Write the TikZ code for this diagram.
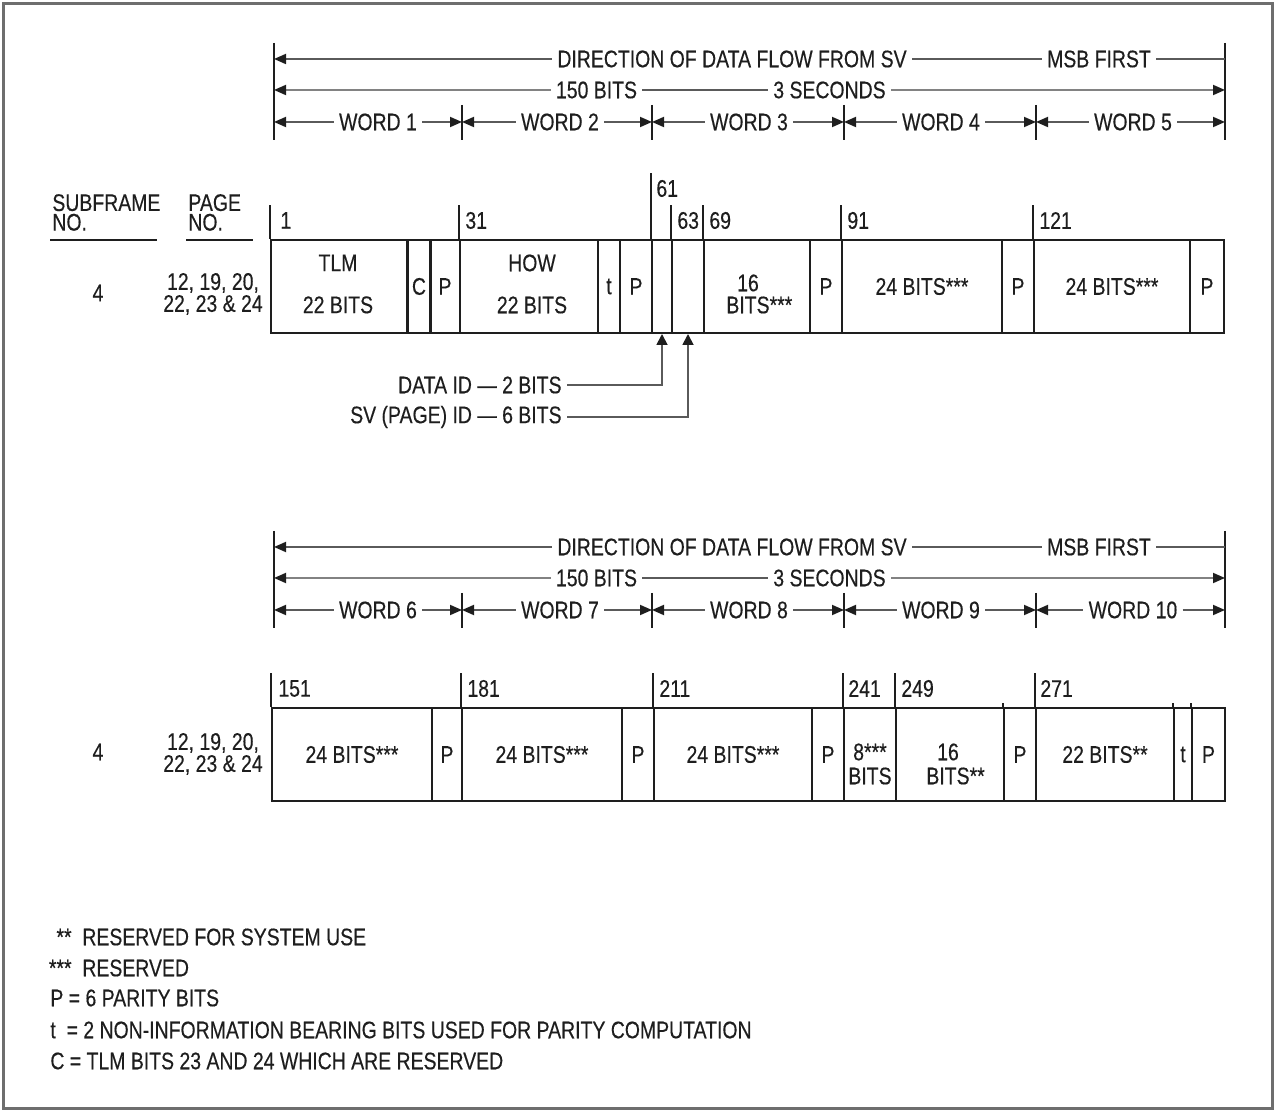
\documentclass[tikz,border=0pt]{standalone}
\usepackage{fontspec}
\setmainfont{Liberation Sans}[FakeStretch=0.81, FakeBold=0.35]
\usetikzlibrary{arrows.meta}
\definecolor{ink}{RGB}{30,30,30}
\definecolor{dimc}{RGB}{90,90,90}
\definecolor{dimlight}{RGB}{130,130,130}
\definecolor{framec}{RGB}{110,110,110}
\tikzset{
  txt/.style={font=\fontsize{12}{14}\selectfont, text=ink, inner sep=2.5pt},
  num/.style={txt, inner sep=0pt, anchor=west},
  tick/.style={draw=ink, line width=1pt},
  dim/.style={draw=dimc, line width=0.9pt, >={Triangle[length=6pt,width=5pt,color=ink]}},
  dimL/.style={dim, draw=dimlight},
  cell/.style={draw=ink, line width=1pt, inner sep=0pt, minimum height=46.5pt, txt},
  lead/.style={draw=dimc, line width=0.9pt, -{Triangle[length=5.5pt,width=5.5pt,color=ink]}},
}
\newcommand\fcell[5]{\node[cell, minimum width={(#3-#2)*0.5pt}] (#1) at ({(#2+#3)/2},#4) {#5};}
\newcommand\dimblock[7]{%
\begin{scope}[shift={(0,#2)}, name prefix=#1]
  \coordinate (L0) at (274,59); \coordinate (R0) at (1225,59);
  \coordinate (L1) at (274,90); \coordinate (R1) at (1225,90);
  \coordinate (T0) at (274,122); \coordinate (T1) at (462,122);
  \coordinate (T2) at (652,122); \coordinate (T3) at (844,122);
  \coordinate (T4) at (1036,122); \coordinate (T5) at (1225,122);
  \draw[tick] (274,43) -- (274,140);
  \draw[tick] (1225,43) -- (1225,140);
  \foreach \x in {462,652,844,1036} \draw[tick] (\x,105) -- (\x,140);
  \node[txt] (dir) at (732,59) {DIRECTION OF DATA FLOW FROM SV};
  \node[txt] (msb) at (1099,59) {MSB FIRST};
  \node[txt] (bits) at (596.5,90) {150 BITS};
  \node[txt] (secs) at (829.5,90) {3 SECONDS};
  \node[txt] (w1) at (378,122) {#3};
  \node[txt] (w2) at (560,122) {#4};
  \node[txt] (w3) at (749,122) {#5};
  \node[txt] (w4) at (941,122) {#6};
  \node[txt] (w5) at (1133,122) {#7};
  \draw[dim,<-] (L0) -- (dir.west);
  \draw[dim] (dir.east) -- (msb.west);
  \draw[dim] (msb.east) -- (R0);
  \draw[dimL,<-] (L1) -- (bits.west);
  \draw[dim] (bits.east) -- (secs.west);
  \draw[dimL,->] (secs.east) -- (R1);
  \draw[dim,<-] (T0) -- (w1.west); \draw[dim,->] (w1.east) -- (T1);
  \draw[dim,<-] (T1) -- (w2.west); \draw[dim,->] (w2.east) -- (T2);
  \draw[dim,<-] (T2) -- (w3.west); \draw[dim,->] (w3.east) -- (T3);
  \draw[dim,<-] (T3) -- (w4.west); \draw[dim,->] (w4.east) -- (T4);
  \draw[dim,<-] (T4) -- (w5.west); \draw[dim,->] (w5.east) -- (T5);
\end{scope}}
\begin{document}
\begin{tikzpicture}[x=0.5pt, y=-0.5pt]
\useasboundingbox (0,0) rectangle (1275,1111);
\draw[framec, line width=1.2pt] (3.5,3.5) rectangle (1272.5,1108.5);

% ---------- dimension blocks ----------
\dimblock{top-}{0}{WORD 1}{WORD 2}{WORD 3}{WORD 4}{WORD 5}
\dimblock{bot-}{488}{WORD 6}{WORD 7}{WORD 8}{WORD 9}{WORD 10}

% ---------- headings ----------
\node[txt, anchor=west, align=left, font=\fontsize{12}{9.8}\selectfont] (sfh) at (47,212.5) {SUBFRAME\\NO.};
\node[txt, anchor=west, align=left, font=\fontsize{12}{9.8}\selectfont] (pgh) at (183,212.5) {PAGE\\NO.};
\draw[tick] (50,240) -- (157,240);
\draw[tick] (186,240) -- (253,240);

% ---------- row 1 ----------
\node[txt] (sf1) at (98,293) {4};
\node[txt, align=center, font=\fontsize{12}{11}\selectfont] (pg1) at (213,294) {12, 19, 20,\\22, 23 \& 24};

\fcell{a1}{271}{408}{286.5}{}
\fcell{a2}{408}{430}{286.5}{C}
\fcell{a3}{430}{460}{286.5}{P}
\fcell{a4}{460}{598}{286.5}{}
\fcell{a5}{598}{620}{286.5}{t}
\fcell{a6}{620}{652}{286.5}{P}
\fcell{a7}{652}{672}{286.5}{}
\fcell{a8}{672}{704}{286.5}{}
\fcell{a9}{704}{810}{286.5}{}
\fcell{a10}{810}{842}{286.5}{P}
\fcell{a11}{842}{1002}{286.5}{24 BITS***}
\fcell{a12}{1002}{1034}{286.5}{P}
\fcell{a13}{1034}{1190}{286.5}{24 BITS***}
\fcell{a14}{1190}{1224}{286.5}{P}

\node[txt, align=center] (tlm) at (338,284) {TLM\\[7pt]22 BITS};
\node[txt, align=center] (how) at (532,284) {HOW\\[7pt]22 BITS};
\node[txt, align=center] (a9t) at (748,294) {16\\[-3pt]BITS\rlap{***}};

\foreach \c/\h in {a1/205, a4/205, a7/173, a8/205, a9/205, a11/205, a13/205}
  \draw[tick] (\c.north west) -- (\c.north west |- 0,\h);
\node[num] (n1) at (280,220.5) {1};
\node[num] (n31) at (465,220.5) {31};
\node[num] (n61) at (656,188.5) {61};
\node[num] (n63) at (677,220.5) {63};
\node[num] (n69) at (709,220.5) {69};
\node[num] (n91) at (847,220.5) {91};
\node[num] (n121) at (1039,220.5) {121};

\node[txt, anchor=east] (did) at (567,385) {DATA ID — 2 BITS};
\node[txt, anchor=east] (svid) at (567,417) {SV (PAGE) ID — 6 BITS};
\draw[lead] (did.east) -| (a7.south);
\draw[lead] (svid.east) -| (a8.south);

% ---------- row 2 ----------
\node[txt] (sf2) at (98,752) {4};
\node[txt, align=center, font=\fontsize{12}{11}\selectfont] (pg2) at (213,754) {12, 19, 20,\\22, 23 \& 24};

\fcell{b1}{272}{432}{754.5}{24 BITS***}
\fcell{b2}{432}{462}{754.5}{P}
\fcell{b3}{462}{622}{754.5}{24 BITS***}
\fcell{b4}{622}{654}{754.5}{P}
\fcell{b5}{654}{812}{754.5}{24 BITS***}
\fcell{b6}{812}{844}{754.5}{P}
\fcell{b7}{844}{896}{754.5}{}
\fcell{b8}{896}{1004}{754.5}{}
\fcell{b9}{1004}{1036}{754.5}{P}
\fcell{b10}{1036}{1174}{754.5}{22 BITS**}
\fcell{b11}{1174}{1192}{754.5}{t}
\fcell{b12}{1192}{1225}{754.5}{P}

\node[txt, align=center] (b7t) at (870,764) {8***\\[-2pt]BITS};
\node[txt, align=center] (b8t) at (948,764) {16\\[-2pt]BITS\rlap{**}};

\foreach \c in {b1,b3,b5,b7,b8,b10}
  \draw[tick] (\c.north west) -- (\c.north west |- 0,673);
\foreach \c in {b9,b11,b12}
  \draw[tick] (\c.north west) -- ++(0,-4);
\node[num] (n151) at (278,688.5) {151};
\node[num] (n181) at (467,688.5) {181};
\node[num] (n211) at (659,688.5) {211};
\node[num] (n241) at (848,688.5) {241};
\node[num] (n249) at (901,688.5) {249};
\node[num] (n271) at (1040,688.5) {271};

% ---------- legend ----------
\node[txt, anchor=east] (l1a) at (77,937) {**};
\node[txt, anchor=west] (l1b) at (77,937) {RESERVED FOR SYSTEM USE};
\node[txt, anchor=east] (l2a) at (77,968) {***};
\node[txt, anchor=west] (l2b) at (77,968) {RESERVED};
\node[txt, anchor=west] (l3) at (45,998) {P = 6 PARITY BITS};
\node[txt, anchor=west] (l4) at (45,1030) {t\ \ = 2 NON-INFORMATION BEARING BITS USED FOR PARITY COMPUTATION};
\node[txt, anchor=west] (l5) at (45,1061) {C = TLM BITS 23 AND 24 WHICH ARE RESERVED};
\end{tikzpicture}
\end{document}
